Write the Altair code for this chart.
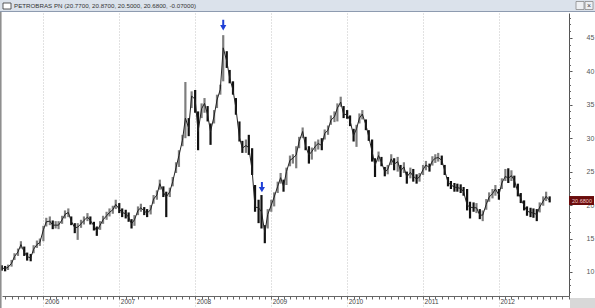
import altair as alt
import pandas as pd

# ---------------- data ----------------
start_date = "2005-06-15"   # semi-monthly bars

close = [10.6,10.5,10.7,11.3,12.3,13.0,14.1,13.0,12.3,12.1,
         13.4,14.1,14.4,16.3,17.5,17.6,17.0,17.0,17.0,17.8,
         18.6,18.9,17.6,16.6,16.7,17.2,17.7,18.2,17.7,16.9,
         16.1,17.0,17.8,18.4,18.9,19.3,20.1,19.4,18.9,18.7,
         18.2,17.2,17.8,19.2,19.6,19.1,18.8,19.3,20.9,21.5,
         23.2,21.9,21.2,22.0,23.5,25.6,27.4,29.7,33.0,31.5,
         36.3,35.8,31.0,34.4,35.2,33.5,31.0,33.3,35.7,37.3,
         43.5,41.5,39.0,37.2,34.5,30.1,28.5,28.9,28.6,25.2,
         19.7,19.6,19.0,15.9,18.6,20.0,21.2,22.8,24.1,22.8,
         25.0,26.7,27.0,27.5,29.5,31.0,28.8,27.5,28.0,28.8,
         29.2,28.9,30.7,31.2,32.7,33.2,34.5,35.4,33.6,33.5,
         32.6,30.4,31.4,33.0,33.6,32.0,30.2,28.0,25.9,27.4,
         26.4,25.0,25.3,26.9,26.1,26.5,25.1,25.7,24.2,24.9,
         24.3,23.9,24.2,25.3,26.0,25.6,26.6,27.0,27.1,26.7,
         25.2,23.4,23.0,22.7,22.6,22.5,22.0,20.0,19.7,19.6,
         19.6,18.5,18.5,20.1,21.2,21.7,22.4,21.5,23.3,24.3,
         24.0,24.4,23.7,22.0,21.0,19.9,19.1,18.9,18.8,18.6,
         19.7,20.6,21.3,20.68]

hi = [11.0,10.9,11.1,11.8,12.8,13.5,14.6,13.8,12.9,12.7,
      14.0,14.7,15.0,16.9,18.1,18.3,17.7,17.6,17.6,18.4,
      19.2,19.5,18.3,17.3,17.3,17.8,18.3,18.8,18.3,17.5,
      16.8,17.6,18.4,19.0,19.5,19.9,20.8,20.3,19.5,19.3,
      18.9,17.9,18.5,19.8,20.2,19.7,19.4,20.0,21.5,22.2,
      23.8,22.8,22.0,22.6,24.2,26.4,28.2,30.5,38.4,33.0,
      37.0,37.2,34.0,35.2,36.0,34.8,32.2,34.2,36.5,38.0,
      45.4,43.0,40.2,38.5,36.0,32.5,29.6,29.8,30.5,28.5,
      23.0,20.8,21.5,17.0,19.4,20.8,21.9,23.5,24.8,23.8,
      25.6,27.4,27.6,28.8,30.2,31.6,30.2,28.8,28.6,29.5,
      29.8,30.0,31.3,31.9,33.4,34.0,35.2,36.2,34.8,34.2,
      33.4,31.4,32.0,33.7,34.2,32.8,31.2,29.8,27.0,28.0,
      27.2,25.7,26.0,27.6,27.0,27.2,26.0,26.4,25.0,25.6,
      25.4,24.6,24.8,26.0,26.6,26.2,27.3,27.6,27.8,27.4,
      26.0,24.2,23.6,23.3,23.2,23.1,22.7,22.4,20.5,20.4,
      20.3,19.4,19.2,20.9,21.9,22.4,23.0,22.4,24.0,25.4,
      25.5,25.2,24.4,23.2,21.8,20.7,19.8,19.6,19.5,19.4,
      20.4,21.3,22.0,21.3]

lo = [10.2,10.1,10.3,10.8,11.8,12.4,13.5,12.4,11.7,11.6,
      12.8,13.6,13.9,14.6,16.8,17.0,16.4,16.5,16.4,17.2,
      18.0,18.2,17.0,15.8,14.8,16.6,17.1,17.6,17.1,16.2,
      15.4,16.3,17.2,17.8,18.3,18.7,19.4,18.8,18.2,18.0,
      17.5,16.5,16.9,18.5,19.0,18.5,18.2,18.6,20.2,20.8,
      22.3,21.2,18.2,21.2,22.8,24.8,25.7,28.8,30.0,30.3,
      34.5,33.8,28.2,33.0,33.8,32.5,29.0,32.2,34.5,36.5,
      38.5,40.5,38.2,36.5,33.5,29.5,27.8,27.8,27.5,24.5,
      19.0,17.3,16.5,14.3,16.5,19.0,19.8,21.8,23.2,22.0,
      23.0,25.8,26.2,25.5,28.5,30.0,28.2,26.2,26.8,28.0,
      28.3,28.2,29.8,30.5,32.0,32.4,32.5,34.7,33.0,32.9,
      31.8,29.5,28.7,32.2,32.8,31.2,29.6,26.5,24.2,26.5,
      25.8,24.3,24.6,26.0,25.2,25.0,24.2,24.8,23.2,24.0,
      23.5,23.2,23.5,24.5,25.2,25.0,25.9,26.3,26.5,26.0,
      24.5,22.8,22.4,22.0,22.0,21.8,21.4,19.2,18.0,19.0,
      18.8,17.9,17.6,19.3,20.5,21.0,21.4,20.8,22.4,23.6,
      23.3,23.6,22.6,21.3,20.3,19.2,18.4,18.2,18.1,17.6,
      18.9,19.9,20.6,20.4]

years = [2006, 2007, 2008, 2009, 2010, 2011, 2012]
y_major = [10, 15, 20, 25, 30, 35, 40, 45]
y_minor = list(range(7, 49))
last_value = 20.68
last_label = "20.6800"
title_text = "PETROBRAS PN (20.7700, 20.8700, 20.5000, 20.6800, -0.07000)"
arrow_dates = ["2008-05-15", "2008-11-17"]
arrow_top = [47.7, 23.45]
arrow_tip = [46.5, 22.3]

# ---------------- build ----------------
dates = pd.date_range(start_date, periods=len(close), freq="SMS")
df = pd.DataFrame({"date": dates, "close": close, "hi": hi, "lo": lo})
df["dir"] = ["up" if i > 0 and close[i] >= close[i - 1] else "down" for i in range(len(close))]

arrows = pd.DataFrame({"date": pd.to_datetime(arrow_dates), "top": arrow_top, "tip": arrow_tip})

FONT = "Liberation Sans"
W, H = 567, 283

xscale = alt.Scale(domain=[alt.DateTime(year=2005, month=6, date=16),
                           alt.DateTime(year=2012, month=12, date=3)])
yscale = alt.Scale(domain=[6.41, 48.71], nice=False, zero=False)

months = pd.date_range("2005-07-01", "2012-12-01", freq="MS")
month_vals = [alt.DateTime(year=int(d.year), month=int(d.month), date=1) for d in months]
year_vals = [alt.DateTime(year=y, month=1, date=1) for y in years]

x_major_axis = alt.Axis(values=year_vals, format="%Y", orient="bottom", title=None,
                        grid=True, gridDash=[1, 2], gridColor="#c4c4c4",
                        tickSize=10, tickDash=[1, 2], tickColor="#c4c4c4",
                        labelAlign="left", labelBaseline="top", labelPadding=-8, labelOffset=1,
                        labelFont=FONT, labelFontSize=6.5, labelColor="#444",
                        domainColor="#666", domainWidth=1)
x_minor_axis = alt.Axis(values=month_vals, orient="bottom", title=None, labels=False,
                        grid=False, domain=False, tickSize=3, tickColor="#666")
y_major_axis = alt.Axis(values=y_major, orient="right", title=None, grid=False,
                        tickSize=3, tickColor="#555", labelPadding=14, labelAlign="left",
                        labelFont=FONT, labelFontSize=7, labelColor="#555",
                        domainColor="#555", domainWidth=1)
y_minor_axis = alt.Axis(values=y_minor, orient="right", title=None, labels=False,
                        grid=False, domain=False, tickSize=1.5, tickColor="#666")

base = alt.Chart(df)

bars = base.mark_rule(strokeWidth=2.2).encode(
    x=alt.X("date:T", scale=xscale, axis=x_major_axis),
    y=alt.Y("lo:Q", scale=yscale, axis=y_major_axis),
    y2="hi:Q",
    color=alt.Color("dir:N", scale=alt.Scale(domain=["up", "down"], range=["#7e7e7e", "#111111"]),
                    legend=None),
)

line = base.mark_line(strokeWidth=1.0, color="#222").encode(
    x=alt.X("date:T", axis=x_minor_axis),
    y=alt.Y("close:Q", axis=y_minor_axis),
)

ab = alt.Chart(arrows)
shaft = ab.mark_rule(color="#1f3fd6", strokeWidth=2).encode(
    x=alt.X("date:T", axis=None), y=alt.Y("top:Q", axis=None), y2="tip:Q")
head = ab.mark_point(shape="triangle-down", filled=True, color="#1f3fd6", size=38, opacity=1).encode(
    x=alt.X("date:T", axis=None), y=alt.Y("tip:Q", axis=None))

one = alt.Chart(pd.DataFrame({"k": [0]}))

tag_box = one.mark_rule(color="#6a0c0c", strokeWidth=9, strokeCap="butt").encode(
    x=alt.value(567), x2=alt.value(592), y=alt.Y(datum=last_value, axis=None))
tag_txt = one.mark_text(font=FONT, fontSize=5.5, color="#f2c9c9", align="center", baseline="middle").encode(
    x=alt.value(580), y=alt.Y(datum=last_value, axis=None), text=alt.value(last_label))

# window chrome
title_bar = one.mark_rect(fill="#dbe2eb").encode(
    x=alt.value(-2), x2=alt.value(593), y=alt.value(-13), y2=alt.value(-1.5))
title_line = one.mark_rule(color="#8e9bb0", strokeWidth=1).encode(
    x=alt.value(-2), x2=alt.value(593), y=alt.value(-1.5))
icon = one.mark_rect(fill="white", stroke="#333", strokeWidth=0.8).encode(
    x=alt.value(1), x2=alt.value(9), y=alt.value(-10), y2=alt.value(-4))
title = one.mark_text(font=FONT, fontSize=6.2, color="#333", align="left", baseline="middle").encode(
    x=alt.value(12), y=alt.value(-7), text=alt.value(title_text))
btn1 = one.mark_rect(fill="#eef0f3", stroke="#8a8a8a", strokeWidth=0.8).encode(
    x=alt.value(574), x2=alt.value(582), y=alt.value(-11.5), y2=alt.value(-3.5))
btn2 = one.mark_rect(fill="#eef0f3", stroke="#8a8a8a", strokeWidth=0.8).encode(
    x=alt.value(583), x2=alt.value(591), y=alt.value(-11.5), y2=alt.value(-3.5))
btn2x = one.mark_text(font=FONT, fontSize=7, color="#444", align="center", baseline="middle").encode(
    x=alt.value(587), y=alt.value(-7.3), text=alt.value("×"))
left_border = one.mark_rule(color="#8a8a8a", strokeWidth=1.5).encode(
    x=alt.value(-1.2), y=alt.value(-1), y2=alt.value(295))
corner = one.mark_rect(fill="#d8d8d8").encode(
    x=alt.value(568), x2=alt.value(593), y=alt.value(285), y2=alt.value(295))

chart = alt.layer(
    bars, line, shaft, head, tag_box, tag_txt,
    title_bar, title_line, icon, title, btn1, btn2, btn2x, left_border, corner,
).resolve_axis(x="independent", y="independent").properties(
    width=W, height=H,
    autosize=alt.AutoSizeParams(type="none"),
    padding={"left": 2, "top": 13, "right": 26, "bottom": 12},
    background="white",
).configure_view(stroke=None)

chart.save("out.html", embed_options={"renderer": "svg", "actions": False})
